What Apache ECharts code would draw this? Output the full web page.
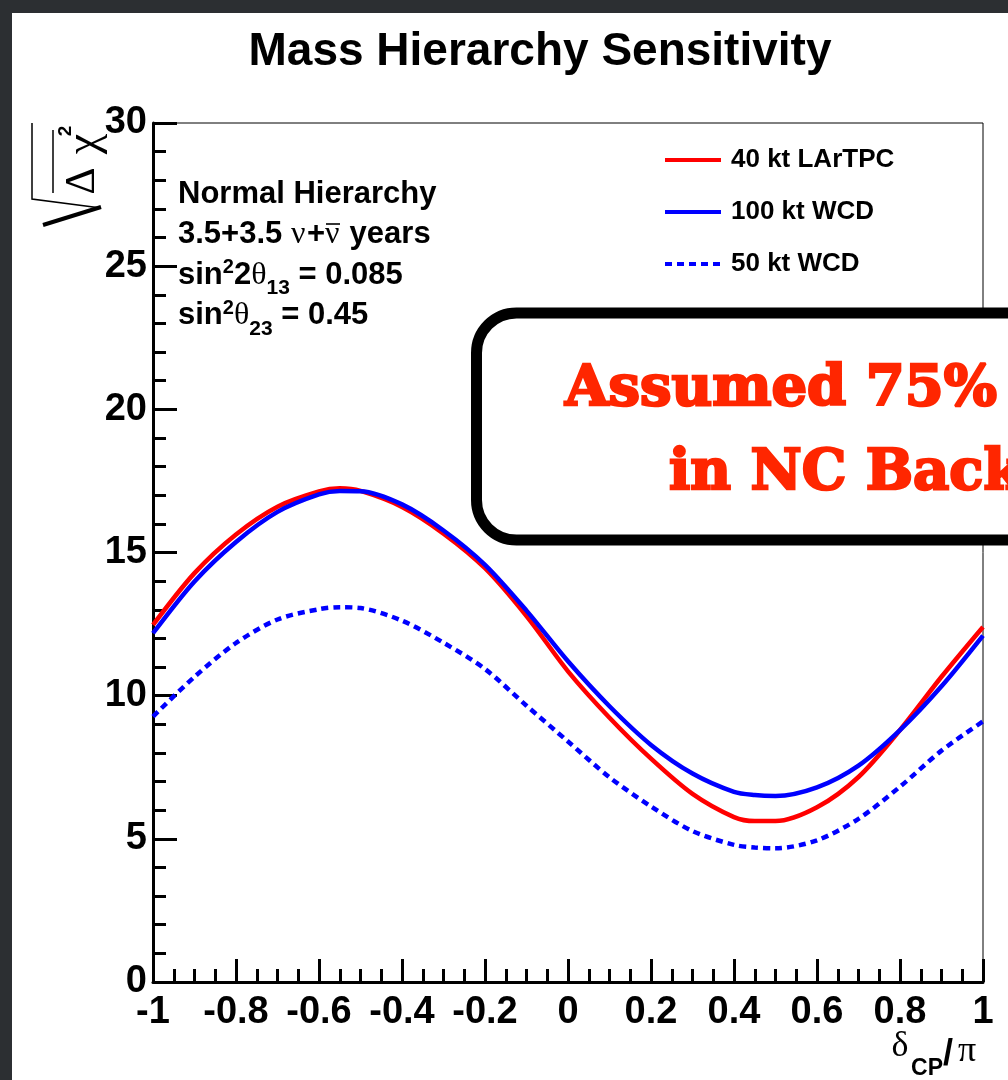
<!DOCTYPE html>
<html><head><meta charset="utf-8">
<script src="https://cdn.jsdelivr.net/npm/echarts@6/dist/echarts.min.js"></script>
<style>
html,body{margin:0;padding:0;background:#2c2f32;overflow:hidden;}
#panel{position:absolute;left:12px;top:13px;width:996px;height:1067px;background:#fff;}
#c{position:absolute;left:0;top:0;width:1008px;height:1080px;}
</style>
</head><body><div id="panel"></div><div id="c"></div>
<script>
// ---- data ----
const xValues = [-1, -0.9, -0.8, -0.7, -0.6, -0.55, -0.5, -0.4, -0.3, -0.2, -0.1, 0, 0.1, 0.2, 0.3, 0.4, 0.45, 0.5, 0.6, 0.7, 0.8, 0.9, 1];
const lartpc40 = [12.47, 14.28, 15.63, 16.6, 17.13, 17.24, 17.15, 16.59, 15.66, 14.45, 12.78, 10.85, 9.23, 7.8, 6.57, 5.76, 5.62, 5.62, 6.1, 7.16, 8.8, 10.66, 12.4];
const wcd100 = [12.18, 13.99, 15.37, 16.42, 17.03, 17.15, 17.14, 16.68, 15.77, 14.57, 12.97, 11.2, 9.63, 8.28, 7.28, 6.64, 6.53, 6.5, 6.8, 7.56, 8.8, 10.33, 12.1];
const wcd50 = [9.27, 10.66, 11.84, 12.66, 13.02, 13.09, 13.06, 12.62, 11.85, 10.93, 9.65, 8.4, 7.15, 6.13, 5.27, 4.79, 4.7, 4.67, 4.95, 5.7, 6.82, 8.08, 9.1];
const seriesNames = ['40 kt LArTPC', '100 kt WCD', '50 kt WCD'];
const titleText = 'Mass Hierarchy Sensitivity';
const boxLines = ['Assumed 75% reduction', 'in NC Background'];

const pairs = ys => xValues.map((x, i) => [x, ys[i]]);
const SANS = 'Liberation Sans, Arial, Helvetica, sans-serif';
const SERIF = 'Liberation Serif, Times New Roman, serif';

const chart = echarts.init(document.getElementById('c'), null, {renderer: 'canvas'});
const tickStyle = {color: '#000', width: 3};
const lineSeries = (name, data, color, type) => ({
  name, type: 'line', data, smooth: 0.3, symbol: 'none', showSymbol: false, clip: true,
  lineStyle: {color, width: 4.5, type, cap: 'butt'}, itemStyle: {color}, z: 3
});

// info-box layout constants
const INFO_X = 178, INFO_Y = 174, INFO_LH = 40.5;
const W_PREFIX = 113, W_NU = 16, W_PLUS = 18;

chart.setOption({
  animation: false,
  backgroundColor: 'transparent',
  grid: {left: 153, right: 25, top: 123, bottom: 98, show: true, borderColor: '#000', borderWidth: 1, backgroundColor: 'transparent'},
  xAxis: {
    type: 'value', min: -1, max: 1, interval: 0.2,
    axisLine: {onZero: false, lineStyle: tickStyle},
    axisTick: {inside: true, length: 23, lineStyle: tickStyle},
    minorTick: {show: true, splitNumber: 4, length: 13, lineStyle: tickStyle},
    splitLine: {show: false},
    axisLabel: {fontSize: 38, fontWeight: 'bold', color: '#000', fontFamily: SANS, margin: 12}
  },
  yAxis: {
    type: 'value', min: 0, max: 30, interval: 5,
    axisLine: {onZero: false, lineStyle: tickStyle},
    axisTick: {inside: true, length: 24, lineStyle: tickStyle},
    minorTick: {show: true, splitNumber: 5, length: 13, lineStyle: tickStyle},
    splitLine: {show: false},
    axisLabel: {fontSize: 38, fontWeight: 'bold', color: '#000', fontFamily: SANS, margin: 6}
  },
  legend: {
    orient: 'vertical', left: 658, top: 142, itemWidth: 56, itemHeight: 24, itemGap: 26,
    data: seriesNames,
    itemStyle: {opacity: 0, borderWidth: 0},
    lineStyle: {width: 4},
    textStyle: {fontSize: 26, lineHeight: 24, fontWeight: 'bold', fontFamily: SANS, color: '#000', padding: [0, 0, 0, 5]}
  },
  series: [
    lineSeries(seriesNames[0], pairs(lartpc40), '#ff0000', 'solid'),
    lineSeries(seriesNames[1], pairs(wcd100), '#0000ff', 'solid'),
    lineSeries(seriesNames[2], pairs(wcd50), '#0000ff', [7, 5])
  ],
  graphic: [
    {type: 'text', x: 540, y: 52, z: 10, style: {text: titleText, fontSize: 46, fontWeight: 'bold', fontFamily: SANS, fill: '#000', align: 'center', verticalAlign: 'middle'}},
    // info text
    {type: 'text', x: INFO_X, y: INFO_Y, z: 10, style: {
      text: '{b|Normal Hierarchy}\n{pre|3.5+3.5 }{nu|ν}{pl|+}{nu|ν}{b| years}\n{b|sin}{sup|2}{b|2}{t|θ}{sub|13}{b| = 0.085}\n{b|sin}{sup|2}{t|θ}{sub|23}{b| = 0.45}',
      rich: {
        b: {fontSize: 31, fontWeight: 'bold', fontFamily: SANS, fill: '#000', lineHeight: INFO_LH, verticalAlign: 'middle'},
        pre: {fontSize: 31, fontWeight: 'bold', fontFamily: SANS, fill: '#000', lineHeight: INFO_LH, verticalAlign: 'middle', width: W_PREFIX, align: 'left'},
        pl: {fontSize: 31, fontWeight: 'bold', fontFamily: SANS, fill: '#000', lineHeight: INFO_LH, verticalAlign: 'middle', width: W_PLUS, align: 'left'},
        nu: {fontSize: 32, fontFamily: SERIF, fill: '#000', lineHeight: INFO_LH, verticalAlign: 'middle', width: W_NU, align: 'left'},
        t: {fontSize: 32, fontFamily: SERIF, fill: '#000', lineHeight: INFO_LH, verticalAlign: 'middle'},
        sup: {fontSize: 20, fontWeight: 'bold', fontFamily: SANS, fill: '#000', lineHeight: 18, padding: [0, 0, 15, 0], verticalAlign: 'middle'},
        sub: {fontSize: 21, fontWeight: 'bold', fontFamily: SANS, fill: '#000', lineHeight: 12, padding: [26, 0, 0, 0], verticalAlign: 'middle'}
      }
    }},
    // overbar of the anti-neutrino symbol
    {type: 'line', z: 10, shape: {x1: INFO_X + W_PREFIX + W_NU + W_PLUS + 1, y1: INFO_Y + INFO_LH + 9.5, x2: INFO_X + W_PREFIX + W_NU + W_PLUS + 15, y2: INFO_Y + INFO_LH + 9.5}, style: {stroke: '#000', lineWidth: 1.6}},
    // y axis title: sqrt(Δχ²)
    {type: 'polyline', z: 10, shape: {points: [[32, 123], [32, 199], [101, 208]]}, style: {stroke: '#000', lineWidth: 1.5, fill: null}},
    {type: 'line', z: 10, shape: {x1: 101, y1: 207, x2: 43, y2: 225}, style: {stroke: '#000', lineWidth: 4}},
    {type: 'line', z: 10, shape: {x1: 53, y1: 130, x2: 53, y2: 193}, style: {stroke: '#000', lineWidth: 1.5}},
    {type: 'text', x: 83, y: 181, rotation: Math.PI / 2, z: 10, style: {text: 'Δ', fontSize: 42, fontFamily: SERIF, fill: '#000', align: 'center', verticalAlign: 'middle'}},
    {type: 'text', x: 85, y: 144, rotation: Math.PI / 2, z: 10, style: {text: 'χ', fontSize: 46, fontFamily: SERIF, fill: '#000', align: 'center', verticalAlign: 'middle'}},
    {type: 'text', x: 66, y: 131, rotation: Math.PI / 2, z: 10, style: {text: '2', fontSize: 19, fontWeight: 'bold', fontFamily: SANS, fill: '#000', align: 'center', verticalAlign: 'middle'}},
    // x axis title δCP/π
    {type: 'text', x: 900, y: 1047, z: 10, style: {text: 'δ', fontSize: 36, fontFamily: SERIF, fill: '#000', align: 'center', verticalAlign: 'middle'}},
    {type: 'text', x: 927, y: 1069, z: 10, style: {text: 'CP', fontSize: 23, fontWeight: 'bold', fontFamily: SANS, fill: '#000', align: 'center', verticalAlign: 'middle'}},
    {type: 'text', x: 948, y: 1055, z: 10, style: {text: '/', fontSize: 36, fontWeight: 'bold', fontFamily: SANS, fill: '#000', align: 'center', verticalAlign: 'middle'}},
    {type: 'text', x: 967, y: 1052, z: 10, style: {text: 'π', fontSize: 36, fontFamily: SERIF, fill: '#000', align: 'center', verticalAlign: 'middle'}},
    // rounded annotation box
    {type: 'rect', z: 20, shape: {x: 476.5, y: 313, width: 700, height: 227, r: 40}, style: {fill: '#fff', stroke: '#000', lineWidth: 11}},
    {type: 'text', x: 565, y: 390, z: 21, style: {text: boxLines[0], fontSize: 56, fontWeight: 'bold', fontFamily: 'DejaVu Serif, serif', fill: '#ff2600', stroke: '#ff2600', lineWidth: 2.5, align: 'left', verticalAlign: 'middle'}},
    {type: 'text', x: 669, y: 474, z: 21, style: {text: boxLines[1], fontSize: 56, fontWeight: 'bold', fontFamily: 'DejaVu Serif, serif', fill: '#ff2600', stroke: '#ff2600', lineWidth: 2.5, align: 'left', verticalAlign: 'middle'}}
  ]
});
</script>
</body></html>
